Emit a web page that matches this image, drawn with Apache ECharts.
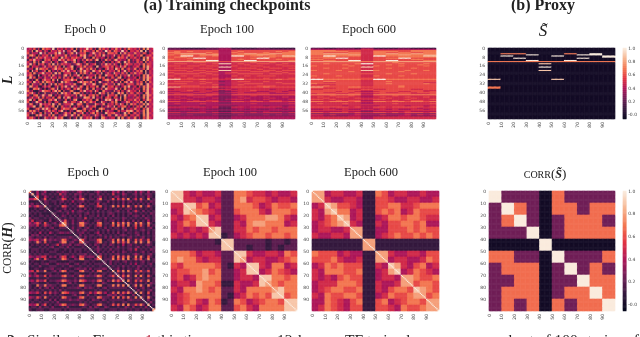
<!DOCTYPE html>
<html>
<head>
<meta charset="utf-8">
<script src="https://cdn.jsdelivr.net/npm/echarts@6/dist/echarts.min.js"></script>
<style>
html, body { margin: 0; background: #fff; }
#main { width: 640px; height: 337px; }
/* the reference is a soft downscaled scan */
#main canvas { filter: blur(0.35px); }
</style>
</head>
<body>
<div id="main"></div>
<script>
// cell values: one character per cell, digit d means d/10 and 'a' means 1.0
const lossEpoch0 = [
  '4536251746 5392645153 4617253594 6251736462 5374625175 4536271845',
  '5371845264 1645374925 6384162754 3617452946 2764394615 5463819254',
  '6254419372 5447293614 5729354612 4853625176 6461837254 3745265146',
  '3785162546 2816454372 6345175825 5274618353 4825163475 6254713564',
  '5142736485 4375518264 2657541823 1725354162 5217564825 4635172846',
  '2648453175 6154285736 4581426374 6268142735 2684534172 5364281745',
  '5317261854 3714613582 1371412514 2141215131 5147318262 4263517354',
  '4825174613 6182736454 5236851371 4571263846 3741615855 2546371654',
  '7164532483 5637251824 6812462735 5218235674 6153847142 5463172854',
  '3451827646 2358465175 4714185362 7361421584 5185172463 4725361845',
  '6183612471 7142526848 3461372854 2854716325 4627148152 5364718254',
  '4617245825 4628271455 6138162741 6215381474 2854263715 3746518254',
  '5752181463 6173242682 7254816135 4471621855 5162735382 6245173845',
  '2836154274 3845162735 1613472584 6182736142 6327814153 4516273864',
  '6241731585 5172813566 5857136122 3643115785 2583261474 5364271854',
  '4518462717 6351418275 3311584763 7151842363 6142716838 4253617264',
  '6174326181 4827165144 6472115835 4861215744 3718351465 5264713845',
  '3863511474 6114726383 2835274161 5527138165 6153147282 4516273854',
  '5127683151 3673815146 4164851272 2714362855 4482617153 6354172846',
  '7351124866 5158371622 6721163844 6285117433 2736152485 4527163845',
  '4684151272 2532618474 5186725131 4151846272 6218471636 5264317845',
  '6216713843 7814152365 3537184616 5726153185 5371628154 4625173864',
  '2473582615 4261571848 6145231877 3814361575 1652817343 5364271845',
  '5815167232 6748132161 4278115464 6137142868 4184716255 3746152864',
  '6132854171 5315621784 2652481735 7461285313 6271134862 5463718254',
  '3751318464 6183172455 5813762152 2285347164 5163851727 4625371845',
  '4468127155 3571816343 7141536284 4671152485 3815367141 5264718354',
  '6112673848 5137215866 3586114733 6141786232 6472181535 3745162845',
  '2747351264 7264158131 5315872616 3538161474 4116254878 5264371845',
  '5385126173 4815612474 6172358141 5716231855 6743128161 4635271854',
  '6121748352 6172143683 3841716535 2385274166 2284637515 5364172845',
  '4674151285 3648357112 6137182464 7153187424 5518172363 4725163854'
];

const lossEpoch100 = [
  '22 11 11 22 33 11 11 22 11 11', '33 33 33 33 44 33 33 33 33 33',
  '66 66 66 66 44 66 66 66 66 66', '67 67 66 66 44 67 66 66 67 67',
  '77 66 66 76 44 76 66 67 66 77', '67 88 88 67 44 67 88 77 88 77',
  '76 77 67 88 44 77 77 88 76 77', '66 aa 67 67 44 aa 67 76 77 99',
  '67 76 66 66 44 66 66 67 76 77', '66 67 aa 66 44 66 67 aa 66 66',
  '76 66 66 66 44 67 66 66 67 66', '66 67 66 aa 44 66 aa 66 66 67',
  '88 88 88 88 66 88 88 88 88 88', '55 55 66 55 44 55 56 55 65 55',
  '56 65 55 56 99 56 55 66 55 65', '55 55 56 55 44 55 65 55 56 55',
  '66 56 65 66 44 65 56 65 55 66', '55 55 55 55 99 55 55 56 55 55',
  '56 66 56 65 44 56 66 55 66 56', '55 55 55 56 44 55 55 65 55 55',
  '66 65 66 55 99 66 65 56 65 66', '55 56 55 66 44 55 56 66 56 55',
  '65 55 56 55 45 65 55 55 55 65', '56 66 65 65 45 56 66 65 66 56',
  '55 55 55 56 44 55 55 55 55 55', '65 65 66 55 44 65 65 66 65 55',
  '55 55 55 55 44 55 55 55 55 55', '56 56 55 56 45 56 55 56 55 56',
  '99 66 67 66 55 99 66 66 67 66', '55 55 55 55 44 55 55 55 55 55',
  '56 66 56 55 34 56 65 56 55 55', '55 55 55 65 44 55 55 55 56 55',
  '66 65 56 55 44 55 66 65 55 66', '55 55 55 56 34 56 55 55 55 55',
  '55 66 65 55 44 55 55 66 65 55', '88 66 66 67 55 66 66 67 66 66',
  '55 55 55 55 34 55 55 55 55 55', '45 55 55 45 55 45 55 55 45 55',
  '55 56 55 55 34 55 56 55 55 54', '44 55 45 54 33 45 55 44 55 45',
  '55 44 55 45 34 55 44 55 45 55', '45 55 44 55 33 45 55 55 44 45',
  '66 66 66 66 44 66 66 66 66 66', '44 45 44 54 33 44 45 44 44 44',
  '45 44 55 44 33 45 44 45 44 54', '44 54 44 45 33 44 54 44 54 44',
  '55 45 44 44 34 55 44 45 44 45', '44 44 54 55 33 44 45 44 55 44',
  '66 56 66 56 44 66 56 65 66 56', '44 44 44 44 33 44 44 44 44 44',
  '45 44 45 44 33 44 45 44 44 45', '44 44 44 44 44 44 44 44 44 44',
  '33 44 43 44 33 34 44 43 44 34', '55 55 55 45 33 55 45 55 55 45',
  '44 43 44 44 22 44 44 44 43 44', '33 44 34 33 33 34 34 33 44 34',
  '44 44 44 44 33 44 44 44 44 44', '33 33 34 33 22 33 33 34 33 33',
  '55 45 55 45 44 55 45 45 55 45', '33 33 33 33 22 33 33 33 33 33',
  '44 34 33 34 33 34 33 34 34 34', '33 33 33 33 22 33 33 33 33 33',
  '44 44 44 44 33 44 44 44 44 44', '44 44 44 44 33 44 44 44 44 44'
];

const lossEpoch600 = [
  '22 11 22 21 33 11 11 22 11 11', '44 44 44 44 55 44 44 44 44 44',
  '77 77 66 66 55 66 66 66 77 77', '77 77 77 66 55 77 77 66 77 77',
  '77 66 66 77 55 77 66 77 66 77', '77 88 88 77 55 77 88 77 88 77',
  '77 77 77 88 55 77 77 88 77 88', '66 aa 77 77 55 aa 77 77 77 99',
  '77 77 66 66 55 66 66 77 77 77', '66 77 aa 66 55 66 77 aa 66 66',
  '77 66 66 66 55 66 66 66 77 66', '66 77 66 aa 55 66 aa 66 66 77',
  '88 88 88 88 77 88 88 88 88 88', '66 66 66 66 55 66 67 66 66 66',
  '66 76 66 67 aa 66 66 76 66 76', '66 66 67 66 55 66 76 66 67 66',
  '76 66 66 76 55 76 66 76 66 76', '66 66 66 66 99 66 66 66 66 66',
  '66 76 67 66 55 66 76 66 76 66', '66 66 66 66 55 66 66 66 66 66',
  '76 66 76 66 99 76 66 67 66 76', '66 66 66 76 55 66 66 76 66 66',
  '66 66 66 66 55 66 66 66 66 66', '66 76 66 66 66 66 76 66 76 66',
  '66 66 66 66 55 66 66 66 66 66', '76 66 76 66 55 76 66 76 66 66',
  '66 66 66 66 55 66 66 66 66 66', '66 66 66 66 66 66 66 66 66 66',
  'aa 77 77 77 66 aa 77 77 77 77', '66 66 66 66 55 66 66 66 66 66',
  '66 77 66 66 55 66 76 66 66 66', '66 55 66 66 55 66 66 66 66 55',
  '76 66 66 66 55 66 76 66 66 76', '55 55 66 66 55 66 66 66 66 66',
  '66 76 66 66 55 66 66 76 66 66', '88 66 66 77 66 66 66 76 66 66',
  '66 55 66 66 55 66 66 66 66 66', '55 66 66 55 66 55 66 66 55 66',
  '66 66 66 66 55 66 66 66 66 55', '66 66 56 65 44 56 66 55 66 56',
  '66 55 66 56 55 66 55 66 56 66', '56 66 55 66 44 56 66 66 55 56',
  '77 77 77 77 55 77 77 77 77 77', '55 56 55 65 44 55 56 55 55 55',
  '56 55 66 55 44 56 55 56 55 65', '55 65 55 56 55 55 65 55 65 55',
  '66 56 55 55 55 66 55 56 55 56', '55 55 65 66 44 55 56 55 66 55',
  '77 67 77 67 55 77 67 76 77 67', '55 55 55 55 44 55 55 55 55 55',
  '56 55 56 55 44 55 56 55 55 56', '55 55 55 55 55 55 55 55 55 55',
  '55 55 54 55 44 45 55 54 55 45', '66 66 66 56 55 66 56 66 66 56',
  '55 54 55 55 44 55 55 55 54 55', '44 55 45 44 55 45 45 44 55 45',
  '55 55 55 55 44 55 55 55 55 55', '44 44 45 44 33 44 44 45 44 44',
  '66 56 66 56 55 66 56 56 66 56', '33 33 33 34 33 33 33 34 33 33',
  '55 45 44 45 44 45 44 45 45 45', '44 33 33 44 33 33 33 44 33 33',
  '55 55 55 55 44 55 55 55 55 55', '55 55 55 55 44 55 55 55 55 55'
];

// proxy bars as [row, block, value], all other cells are 0
const proxyBars = [
  [5, 1, 0.7], [5, 2, 0.7], [5, 6, 0.7], [5, 8, 1], [6, 8, 1], [6, 3, 1], [6, 7, 1],
  [7, 1, 1], [7, 5, 1], [7, 9, 1], [8, 9, 1], [9, 2, 1], [9, 7, 1], [11, 3, 1], [11, 6, 1],
  [12, 0, 0.7], [12, 1, 0.7], [12, 2, 0.7], [12, 3, 0.7], [12, 4, 0.7],
  [12, 5, 0.7], [12, 6, 0.7], [12, 7, 0.7], [12, 8, 0.7], [12, 9, 0.7],
  [14, 4, 0.9], [17, 4, 1], [20, 4, 0.9], [28, 0, 0.9], [28, 5, 0.9], [35, 0, 0.7], [36, 0, 0.7]
];

// upper triangle, each row starts at the diagonal, the diagonal itself is 1
const corrEpoch0 = [
  '72141 24112 13243 21213 42121 12421 21142 41312 21414 21412',
  '7141 32121 21523 12132 31212 21312 12151 21421 12313 12321',
  '261 14212 12142 21221 42112 12241 21213 31221 21312 21421',
  '61 26121 12265 12132 57212 21471 21261 52627 12516 21712',
  '2 13212 21231 21412 23121 12321 13121 21312 31213 12132',
  '12211 21212 12121 31212 21512 21121 21312 12121 21312',
  '7121 12165 21213 76121 12561 21271 61617 21627 12621',
  '211 21123 12121 21312 12121 31212 12122 31212 12121',
  '21 12312 21412 32121 21312 12212 31213 12521 31212',
  '2 21121 31212 21231 21212 12321 21212 31212 12132',
  '12132 12121 31212 21312 12131 21212 12321 31212',
  '1212 12212 21512 12121 31212 21321 21212 13212',
  '236 21312 23121 12321 21231 21312 13121 21412',
  '87 21312 77321 21671 22171 62727 21727 21721',
  '7 21212 67212 12561 21261 72617 12616 21612',
  '21312 21231 12121 31212 21321 21512 21231',
  '1213 12312 21212 13121 21231 21212 31212',
  '212 23121 12412 12121 31212 21321 21312',
  '21 31212 21231 21212 12321 21231 21212',
  '2 21312 12121 31312 21212 31212 31212',
  '86212 22671 12261 72717 21626 22612',
  '7221 12571 21271 62627 12717 21721',
  '212 13212 21321 21412 31212 12321',
  '21 21312 12121 31212 21231 21212',
  '2 12321 21312 21212 31512 12132',
  '21312 12131 21321 21212 31212',
  '2131 21212 31212 12421 21231',
  '761 21261 72627 21717 21621',
  '71 22271 62717 12626 12712',
  '2 21312 21231 21212 31212',
  '21312 12121 31412 21231',
  '2121 21312 12132 12121',
  '212 31212 21231 21212',
  '71 62717 21626 22612',
  '2 21312 21231 21212',
  '72627 21717 21621',
  '2312 21231 21212',
  '717 21626 22712',
  '21 21312 12132',
  '7 12717 21721',
  '21312 31212',
  '2131 21231',
  '717 21612',
  '21 21312',
  '7 21721',
  '21312',
  '2131',
  '712',
  '21',
  '7'
];

const corrEpoch100 = [
  '99 54 54 45 22 77 65 54 54 45',
  '9 55 45 54 22 78 56 65 45 54',
  '99 67 45 22 77 76 45 76 67',
  '8 76 54 22 67 77 54 77 76',
  '99 45 22 45 77 78 87 54',
  '9 54 22 54 78 87 77 45',
  '89 22 55 76 77 67 77',
  '9 12 45 67 76 77 67',
  '99 22 22 21 22 12',
  '9 22 12 21 21 22',
  '99 54 45 54 76',
  '8 45 54 45 67',
  '99 54 77 45',
  '9 45 76 54',
  '99 77 67',
  '8 76 77',
  '89 77',
  '9 67',
  '99',
  '9'
];

const corrEpoch600 = [
  '88 45 54 45 11 76 45 54 45 44',
  '8 54 45 54 11 66 54 45 54 45',
  '98 66 54 11 66 77 55 67 77',
  '9 77 45 11 67 67 45 76 66',
  '98 45 11 45 77 67 76 55',
  '9 54 11 54 66 77 67 44',
  '88 11 44 66 67 67 66',
  '8 11 45 67 66 76 76',
  '88 11 11 11 11 11',
  '8 11 11 11 11 11',
  '88 54 45 54 66',
  '8 45 54 45 76',
  '98 54 67 45',
  '9 45 76 54',
  '88 76 67',
  '8 67 76',
  '98 76',
  '8 67',
  '88',
  '8'
];

const P = 0.25, O = 0.68, K = 0, W = 1;
const corrProxy = [
  [W, P, P, P, K, O, P, P, P, P],
  [P, W, O, P, K, O, O, P, O, O],
  [P, O, W, P, K, P, O, O, O, P],
  [P, P, P, W, K, P, O, O, O, O],
  [K, K, K, K, W, K, K, K, K, K],
  [O, O, P, P, K, W, P, P, P, O],
  [P, O, O, O, K, P, W, P, O, P],
  [P, P, O, O, K, P, P, W, O, O],
  [P, O, O, O, K, P, O, O, W, O],
  [P, O, P, O, K, O, P, O, O, W]
];

const colorbarTicks = { '1.00': '1.0', '0.80': '0.8', '0.60': '0.6', '0.40': '0.4', '0.20': '0.2', '0.00': '-0.0' };
const rocket = ['#03051a', '#35193e', '#701f57', '#ad1759', '#e13342', '#f37651', '#f6b48f', '#faebdd'];

function readTable(rows) {
  return rows.map(s => Array.from(s.replace(/ /g, '')).map(ch => parseInt(ch, 36) / 10));
}

function readUpper(rows) {
  const upper = readTable(rows);
  const n = upper.length;
  const out = [];
  for (let i = 0; i < n; i++) {
    out.push([]);
    for (let j = 0; j < n; j++) {
      out[i].push(i <= j ? upper[i][j - i] : upper[j][i - j]);
    }
  }
  return out;
}

function proxyTable() {
  const out = [];
  for (let i = 0; i < 64; i++) out.push(new Array(10).fill(0));
  proxyBars.forEach(b => { out[b[0]][b[1]] = b[2]; });
  return out;
}

// spread a coarse table over the nRow x nCol heatmap cells
function toCells(table, nRow, nCol, unitDiag) {
  const rows = table.length;
  const cols = table[0].length;
  const out = [];
  for (let r = 0; r < nRow; r++) {
    for (let c = 0; c < nCol; c++) {
      const v = table[Math.floor(r * rows / nRow)][Math.floor(c * cols / nCol)];
      out.push([c, r, unitDiag && r === c ? 1 : v]);
    }
  }
  return out;
}

const labels = n => Array.from({ length: n }, (_, i) => String(i));

const panels = [
  { left: 27, top: 48, width: 126, height: 71, rows: 64, step: 8, table: readTable(lossEpoch0) },
  { left: 168, top: 48, width: 127, height: 71, rows: 64, step: 8, table: readTable(lossEpoch100) },
  { left: 311, top: 48, width: 125, height: 71, rows: 64, step: 8, table: readTable(lossEpoch600) },
  { left: 488, top: 48, width: 127, height: 71, rows: 64, step: 8, table: proxyTable() },
  { left: 29, top: 191, width: 126, height: 120, rows: 100, step: 10, table: readUpper(corrEpoch0), diag: true },
  { left: 171, top: 191, width: 126, height: 120, rows: 100, step: 10, table: readUpper(corrEpoch100), diag: true },
  { left: 312, top: 191, width: 127, height: 120, rows: 100, step: 10, table: readUpper(corrEpoch600), diag: true },
  { left: 489, top: 191, width: 126, height: 120, rows: 100, step: 10, table: corrProxy }
];

const colorbars = [
  { left: 623, top: 48, width: 4, height: 71 },
  { left: 623, top: 191, width: 6, height: 120 }
];

const grid = [], xAxis = [], yAxis = [], series = [];
const tickLabel = { fontSize: 4.5, color: '#444', fontFamily: 'DejaVu Sans' };

panels.forEach((p, i) => {
  grid.push({ left: p.left, top: p.top, width: p.width, height: p.height });
  xAxis.push({
    type: 'category', gridIndex: i, data: labels(100),
    axisLine: { show: false },
    axisTick: { length: 1, interval: 9, alignWithLabel: true, lineStyle: { color: '#444', width: 0.5 } },
    axisLabel: Object.assign({}, tickLabel, { interval: 9, rotate: 90, margin: 3 }),
    splitLine: { show: false }
  });
  yAxis.push({
    type: 'category', gridIndex: i, inverse: true, data: labels(p.rows),
    axisLine: { show: false },
    axisTick: { length: 1, interval: p.step - 1, alignWithLabel: true, lineStyle: { color: '#444', width: 0.5 } },
    axisLabel: Object.assign({}, tickLabel, { interval: p.step - 1, margin: 3 }),
    splitLine: { show: false }
  });
  series.push({
    type: 'heatmap', xAxisIndex: i, yAxisIndex: i,
    data: toCells(p.table, p.rows, 100, p.diag),
    progressive: 0, animation: false, emphasis: { disabled: true }
  });
});

// colour bars, one column of cells from -0.05 to 1.00
const barLevels = Array.from({ length: 106 }, (_, i) => ((i - 5) / 100).toFixed(2));
colorbars.forEach((b, k) => {
  const i = panels.length + k;
  grid.push({ left: b.left, top: b.top, width: b.width, height: b.height });
  xAxis.push({ type: 'category', gridIndex: i, data: [''], axisLine: { show: false }, axisTick: { show: false }, axisLabel: { show: false } });
  yAxis.push({
    type: 'category', gridIndex: i, position: 'right', data: barLevels,
    axisLine: { show: false },
    axisTick: { length: 1, alignWithLabel: true, interval: (n, v) => v in colorbarTicks, lineStyle: { color: '#444', width: 0.5 } },
    axisLabel: Object.assign({}, tickLabel, { margin: 2, interval: (n, v) => v in colorbarTicks, formatter: v => colorbarTicks[v] })
  });
  series.push({
    type: 'heatmap', xAxisIndex: i, yAxisIndex: i,
    data: barLevels.map((v, n) => [0, n, +v]),
    progressive: 0, animation: false, emphasis: { disabled: true }
  });
});

const serif = 'Liberation Serif';
function label(text, x, y, size, extra) {
  return {
    type: 'text', x: x, y: y,
    style: Object.assign({ text: text, fontFamily: serif, fontSize: size, fill: '#222', align: 'center', verticalAlign: 'middle' }, extra || {})
  };
}

const graphic = [
  label('(a) Training checkpoints', 227, 6, 16, { fontWeight: 'bold' }),
  label('(b) Proxy', 543, 6, 16, { fontWeight: 'bold' }),
  label('Epoch 0', 85, 30, 12.5), label('Epoch 100', 227, 30, 12.5), label('Epoch 600', 369, 30, 12.5),
  label('S\u0303', 543, 32, 17, { fontStyle: 'italic' }),
  label('Epoch 0', 88, 173, 12.5), label('Epoch 100', 230, 173, 12.5), label('Epoch 600', 371, 173, 12.5),
  {
    type: 'text', x: 545, y: 175,
    style: {
      text: '{c|CORR}{b|(}{v|S\u0303}{b|)}', align: 'center', verticalAlign: 'middle',
      rich: {
        c: { fontFamily: serif, fontSize: 10, fill: '#222' },
        b: { fontFamily: serif, fontSize: 13, fill: '#222' },
        v: { fontFamily: serif, fontSize: 12, fontStyle: 'italic', fontWeight: 'bold', fill: '#222' }
      }
    }
  },
  {
    type: 'text', x: 8, y: 80, rotation: Math.PI / 2,
    style: { text: 'L', fontFamily: serif, fontSize: 14, fontStyle: 'italic', fontWeight: 'bold', fill: '#222', align: 'center', verticalAlign: 'middle' }
  },
  {
    type: 'text', x: 8, y: 248, rotation: Math.PI / 2,
    style: {
      text: '{c|CORR}{b|(}{v|H}{b|)}', align: 'center', verticalAlign: 'middle',
      rich: {
        c: { fontFamily: serif, fontSize: 11.5, fill: '#222' },
        b: { fontFamily: serif, fontSize: 14, fill: '#222' },
        v: { fontFamily: serif, fontSize: 14, fontStyle: 'italic', fontWeight: 'bold', fill: '#222' }
      }
    }
  }
];

// caption line, cut by the bottom edge of the picture
[['2:', 7], ['Similar to Fig.', 27], ['this time', 157], ['across a', 212], ['12-layer', 277], ['TF trained on a', 345], ['subset of 100 strains of', 495]].forEach(t => {
  graphic.push({ type: 'text', x: t[1], y: 333, style: { text: t[0], fontFamily: serif, fontSize: 15.5, fill: '#222', align: 'left', verticalAlign: 'top', fontWeight: t[0] === '2:' ? 'bold' : 'normal' } });
});
graphic.push({ type: 'text', x: 145, y: 333, style: { text: '1', fontFamily: serif, fontSize: 15.5, fill: '#b0182f', align: 'left', verticalAlign: 'top' } });

const chart = echarts.init(document.getElementById('main'), null, { renderer: 'canvas' });
chart.setOption({
  animation: false,
  backgroundColor: '#fff',
  grid: grid,
  xAxis: xAxis,
  yAxis: yAxis,
  visualMap: { show: false, min: -0.05, max: 1, dimension: 2, inRange: { color: rocket } },
  series: series,
  graphic: graphic
});
</script>
</body>
</html>
